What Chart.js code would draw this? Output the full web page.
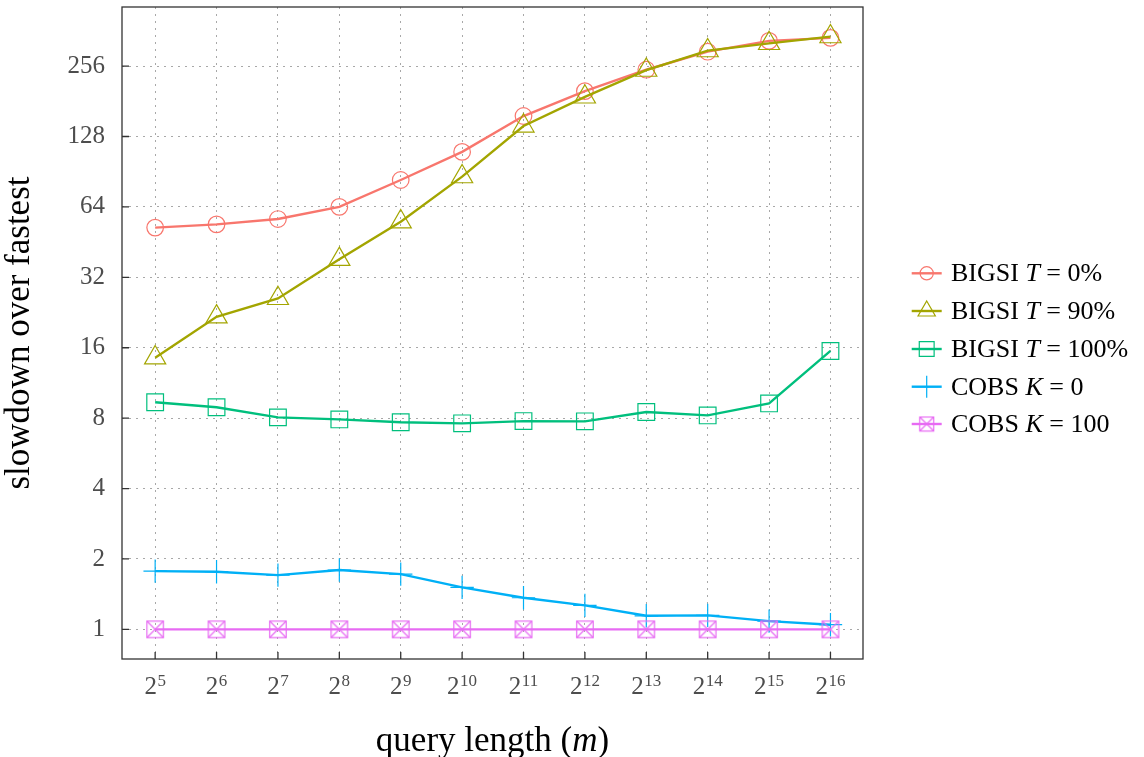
<!DOCTYPE html>
<html>
<head>
<meta charset="utf-8">
<script src="https://cdn.jsdelivr.net/npm/chart.js@4.4.1/dist/chart.umd.min.js"></script>
<style>
  html, body { margin: 0; padding: 0; background: #fff; }
</style>
</head>
<body>
<canvas id="slowdownChart" width="1144" height="757"></canvas>
<script>
// query length exponents (m = 2^e)
const exponents = [5, 6, 7, 8, 9, 10, 11, 12, 13, 14, 15, 16];

// slowdown over fastest
const bigsiT0 = [52.2, 53.9, 56.8, 64, 83.4, 110, 156.6, 200, 247, 295, 328, 338];
const bigsiT90 = [14.5, 21.7, 26.0, 38.2, 55.3, 86.2, 142, 189, 246, 298, 320, 342];
const bigsiT100 = [9.35, 8.9, 8.06, 7.9, 7.68, 7.6, 7.77, 7.75, 8.5, 8.22, 9.25, 15.5];
const cobsK0 = [1.775, 1.763, 1.706, 1.793, 1.723, 1.512, 1.365, 1.267, 1.143, 1.148, 1.085, 1.047];
const cobsK100 = [1, 1, 1, 1, 1, 1, 1, 1, 1, 1, 1, 1];

const yTicks = [1, 2, 4, 8, 16, 32, 64, 128, 256];

// legend text pieces: [plain, italic, plain]
const legendTexts = [
    ['BIGSI ', 'T', ' = 0%'],
    ['BIGSI ', 'T', ' = 90%'],
    ['BIGSI ', 'T', ' = 100%'],
    ['COBS ', 'K', ' = 0'],
    ['COBS ', 'K', ' = 100']
];
const xTitle = ['query length (', 'm', ')'];

const colors = ['#F8766D', '#A3A500', '#00BF7D', '#00B0F6', '#E76BF3'];
const serif = '"Liberation Serif", "DejaVu Serif", serif';

// square with a cross inside, used for COBS K = 100
function makeBoxX(side, color) {
    const c = document.createElement('canvas');
    const s = Math.ceil(side + 3);
    c.width = s;
    c.height = s;
    const g = c.getContext('2d');
    const o = (s - side) / 2;
    g.strokeStyle = color;
    g.lineWidth = 1.2;
    g.strokeRect(o, o, side, side);
    g.beginPath();
    g.moveTo(o, o); g.lineTo(o + side, o + side);
    g.moveTo(o + side, o); g.lineTo(o, o + side);
    g.stroke();
    return c;
}

function toPoints(values) {
    return values.map((v, i) => ({ x: exponents[i], y: v }));
}

// draw [plain, italic, plain] pieces starting at x
function drawPieces(ctx, parts, x, y, size) {
    parts.forEach((p, k) => {
        ctx.font = (k === 1 ? 'italic ' : '') + size + 'px ' + serif;
        ctx.fillText(p, x, y);
        x += ctx.measureText(p).width;
    });
}
function piecesWidth(ctx, parts, size) {
    let w = 0;
    parts.forEach((p, k) => {
        ctx.font = (k === 1 ? 'italic ' : '') + size + 'px ' + serif;
        w += ctx.measureText(p).width;
    });
    return w;
}

const styles = ['circle', 'triangle', 'rect', 'cross', makeBoxX(16.5, colors[4])];
const radii = [8.3, 12.2, 11.8, 11.7, 8.3];
const legendStyles = ['circle', 'triangle', 'rect', 'cross', makeBoxX(14, colors[4])];
const legendRadii = [6.6, 10, 10.5, 11, 7];
const seriesData = [bigsiT0, bigsiT90, bigsiT100, cobsK0, cobsK100];

const datasets = seriesData.map((vals, i) => ({
    label: legendTexts[i].join(''),
    data: toPoints(vals),
    borderColor: colors[i],
    backgroundColor: 'transparent',
    borderWidth: 2.4,
    pointStyle: styles[i],
    pointRadius: radii[i],
    pointBorderWidth: 1.2,
    pointBorderColor: colors[i],
    pointBackgroundColor: 'rgba(0,0,0,0)',
    tension: 0,
    order: 4 - i
}));

const framePlugin = {
    id: 'frame',
    afterDraw(chart) {
        const ctx = chart.ctx;
        const a = chart.chartArea;
        const xs = chart.scales.x, ys = chart.scales.y;
        ctx.save();
        ctx.setLineDash([]);
        ctx.strokeStyle = '#333333';
        ctx.lineWidth = 1.3;
        ctx.strokeRect(a.left, a.top, a.right - a.left, a.bottom - a.top);
        ctx.beginPath();
        exponents.forEach(e => {
            const px = xs.getPixelForValue(e);
            ctx.moveTo(px, a.bottom);
            ctx.lineTo(px, a.bottom - 7);
        });
        yTicks.forEach(v => {
            const py = ys.getPixelForValue(v);
            ctx.moveTo(a.left, py);
            ctx.lineTo(a.left + 7, py);
        });
        ctx.stroke();

        // x tick labels 2^e with a real superscript
        ctx.fillStyle = '#4d4d4d';
        ctx.textBaseline = 'alphabetic';
        ctx.textAlign = 'left';
        exponents.forEach(e => {
            const px = xs.getPixelForValue(e);
            ctx.font = '25px ' + serif;
            const wb = ctx.measureText('2').width;
            ctx.font = '17px ' + serif;
            const we = ctx.measureText(String(e)).width;
            const x0 = px - (wb + we + 0.5) / 2;
            ctx.font = '25px ' + serif;
            ctx.fillText('2', x0, a.bottom + 35);
            ctx.font = '17px ' + serif;
            ctx.fillText(String(e), x0 + wb + 0.5, a.bottom + 27);
        });

        // x axis title with italic m
        ctx.fillStyle = '#000';
        const tw = piecesWidth(ctx, xTitle, 35);
        drawPieces(ctx, xTitle, (a.left + a.right) / 2 - tw / 2, 751, 35);

        // legend
        const rowY = [273.3, 311, 349, 386.7, 424];
        const lineX0 = 911.7, lineX1 = 941.7, textX = 951;
        legendTexts.forEach((parts, i) => {
            const y = rowY[i];
            ctx.strokeStyle = colors[i];
            ctx.lineWidth = 2.4;
            ctx.beginPath();
            ctx.moveTo(lineX0, y);
            ctx.lineTo(lineX1, y);
            ctx.stroke();
            ctx.lineWidth = 1.2;
            ctx.fillStyle = 'rgba(0,0,0,0)';
            Chart.helpers.drawPoint(ctx, {
                pointStyle: legendStyles[i],
                radius: legendRadii[i],
                rotation: 0,
                borderWidth: 1.2
            }, (lineX0 + lineX1) / 2, y);

            ctx.fillStyle = '#000';
            drawPieces(ctx, parts, textX, y + 8, 26);
        });
        ctx.restore();
    }
};

const slowdownChart = new Chart(document.getElementById('slowdownChart').getContext('2d'), {
    type: 'line',
    data: { datasets: datasets },
    plugins: [framePlugin],
    options: {
        responsive: false,
        animation: false,
        layout: {
            autoPadding: false,
            padding: { top: 7, right: 281, left: 0, bottom: 0 }
        },
        scales: {
            x: {
                type: 'linear',
                bounds: 'data',
                min: 4.46,
                max: 16.53,
                afterBuildTicks: s => { s.ticks = exponents.map(v => ({ value: v })); },
                afterFit: s => { s.height = 98; s.paddingLeft = 0; s.paddingRight = 0; },
                grid: {
                    color: '#a8a8a8',
                    lineWidth: 1,
                    drawTicks: false
                },
                border: { display: false, dash: [2, 5] },
                ticks: { display: false }
            },
            y: {
                type: 'logarithmic',
                bounds: 'data',
                min: 0.747,
                max: 458,
                afterBuildTicks: s => { s.ticks = yTicks.map(v => ({ value: v })); },
                afterFit: s => { s.width = 122; s.paddingTop = 0; s.paddingBottom = 0; },
                grid: {
                    color: '#a8a8a8',
                    lineWidth: 1,
                    drawTicks: false
                },
                border: { display: false, dash: [2, 5] },
                ticks: {
                    padding: 17,
                    color: '#4d4d4d',
                    font: { family: serif, size: 25 },
                    callback: v => String(v)
                },
                title: {
                    display: true,
                    text: 'slowdown over fastest',
                    color: '#000',
                    font: { family: serif, size: 35, lineHeight: 1 },
                    padding: { top: 2.7, bottom: 0 }
                }
            }
        },
        plugins: {
            legend: { display: false },
            tooltip: { enabled: false }
        }
    }
});
</script>
</body>
</html>
